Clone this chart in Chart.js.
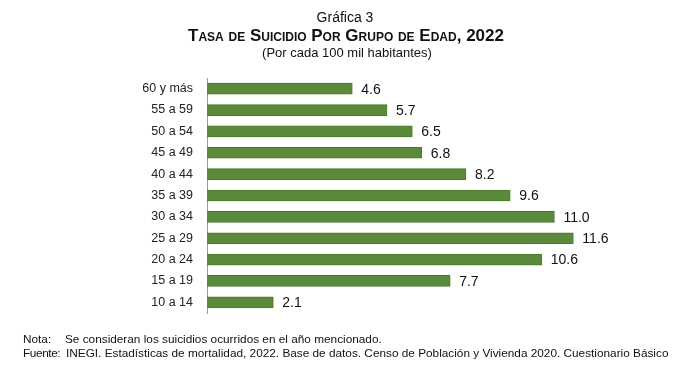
<!DOCTYPE html>
<html>
<head>
<meta charset="utf-8">
<script src="https://cdn.jsdelivr.net/npm/chart.js@4"></script>
<style>
  html, body { margin: 0; padding: 0; background: #fff; }
  #wrap { position: relative; width: 700px; height: 373px; font-family: 'Liberation Sans', Arial, sans-serif; color: #111; }
  #c { position: absolute; left: 0; top: 0; }
  .t { position: absolute; left: 0; width: 700px; text-align: center; white-space: nowrap; }
  #t1 { top: 9px; font-size: 14px; left: -5px; }
  #t2 { top: 26px; font-size: 17px; font-weight: bold; font-variant: small-caps; left: -4px; }
  #t3 { top: 45px; font-size: 13px; left: -3px; }
  .n { position: absolute; font-size: 11.8px; white-space: nowrap; }
</style>
</head>
<body>
<div id="wrap">
  <canvas id="c" width="700" height="373"></canvas>
  <div class="t" id="t1">Gráfica 3</div>
  <div class="t" id="t2">Tasa de Suicidio Por Grupo de Edad, 2022</div>
  <div class="t" id="t3">(Por cada 100 mil habitantes)</div>
  <div class="n" style="top:332px; left:23px">Nota:</div>
  <div class="n" style="top:332px; left:65px">Se consideran los suicidios ocurridos en el año mencionado.</div>
  <div class="n" style="top:346px; left:23px; letter-spacing:-0.4px">Fuente:</div>
  <div class="n" style="top:346px; left:66px">INEGI. Estadísticas de mortalidad, 2022. Base de datos. Censo de Población y Vivienda 2020. Cuestionario Básico</div>
</div>
<script>
// ---- datos ----
var grupos = ['60 y más', '55 a 59', '50 a 54', '45 a 49', '40 a 44', '35 a 39', '30 a 34', '25 a 29', '20 a 24', '15 a 19', '10 a 14'];
var tasas = [4.6, 5.7, 6.5, 6.8, 8.2, 9.6, 11.0, 11.6, 10.6, 7.7, 2.1];
var xMax = 12;

Chart.defaults.font.family = "'Liberation Sans', Arial, sans-serif";
Chart.defaults.color = '#222';

// etiquetas de valor al final de cada barra
var valueLabels = {
  id: 'valueLabels',
  afterDatasetsDraw: function(chart) {
    var ctx = chart.ctx;
    var meta = chart.getDatasetMeta(0);
    chart.data.datasets[0].data.forEach(function(v, i) {
      var bar = meta.data[i];
      ctx.save();
      ctx.font = "14px 'Liberation Sans', Arial, sans-serif";
      ctx.fillStyle = '#111';
      ctx.textBaseline = 'middle';
      ctx.fillText(v.toFixed(1), bar.x + 9, bar.y + 1);
      ctx.restore();
    });
  }
};

new Chart(document.getElementById('c').getContext('2d'), {
  type: 'bar',
  data: {
    labels: grupos,
    datasets: [{ data: tasas, backgroundColor: '#5B8A3A', borderColor: '#4A7A2A', borderWidth: 1, barThickness: 11 }]
  },
  options: {
    indexAxis: 'y', responsive: false, animation: false,
    layout: { padding: { top: 78, bottom: 60, left: 0, right: 114 } },
    scales: {
      x: { display: false, min: 0, max: xMax },
      y: {
        grid: { display: false, drawTicks: false },
        border: { display: true, color: '#9a9a9a', width: 1 },
        ticks: { padding: 14, font: { size: 12.5 }, color: '#222' },
        afterFit: function(s) { s.width = 207; }
      }
    },
    plugins: { legend: { display: false }, tooltip: { enabled: false } }
  },
  plugins: [valueLabels]
});
</script>
</body>
</html>
